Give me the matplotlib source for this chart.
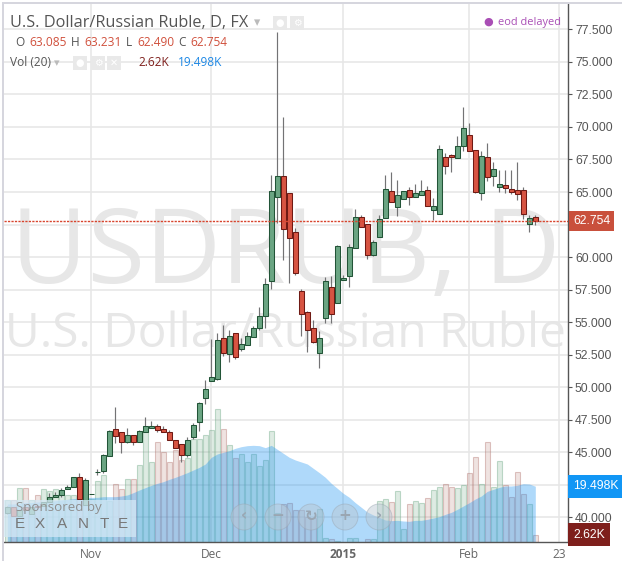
import matplotlib
matplotlib.use("Agg")
import matplotlib.pyplot as plt
from matplotlib.patches import Rectangle, Ellipse

opens = [40.28,40.77,40.08,40.77,40.21,40.87,40.85,41.18,41.52,41.72,42.13,42.28,43.05,40.92,41.74,43.44,43.56,44.67,46.75,46.52,
         45.75,46.28,45.75,46.52,46.82,46.98,46.75,46.52,45.9,45.59,44.74,46.13,47.28,49.13,50.46,50.62,53.75,52.56,54.13,52.95,
         53.25,53.82,54.52,55.48,58.13,64.59,66.21,64.9,61.9,57.36,55.75,54.52,52.64,55.33,57.67,56.44,58.21,58.52,60.67,63.05,
         62.52,60.13,61.56,62.98,65.05,63.87,64.48,65.13,64.64,64.79,65.13,63.64,63.33,67.67,67.82,67.64,68.56,69.36,68.21,64.95,
         67.67,66.25,65.41,65.52,65.21,65.13,65.13,62.56,63.085]
highs = [40.85,40.77,40.08,40.77,40.75,40.87,41.18,41.85,41.9,42.21,42.44,43.05,43.36,42.98,41.78,43.67,44.82,46.67,48.44,46.52,
         46.85,46.28,46.67,47.67,47.36,47.13,46.98,46.69,45.9,45.59,46.13,47.21,48.82,50.54,53.67,54.13,54.77,54.36,54.13,53.75,
         54.21,54.69,56.13,58.36,66.31,77.28,70.75,64.9,62.21,57.52,55.82,55.13,54.28,58.43,58.52,60.9,58.59,60.98,63.67,63.21,
         62.52,61.28,63.23,66.31,66.54,65.92,65.05,65.38,65.62,65.92,65.46,64.54,68.62,68.0,67.92,69.31,71.52,70.28,68.21,68.13,
         68.75,67.28,66.69,66.69,66.69,67.31,65.36,63.23,63.231]
lows = [40.2,40.08,40.08,40.54,40.21,40.79,40.85,41.18,41.52,41.56,42.13,42.28,41.36,40.92,41.74,43.25,43.41,44.67,45.67,44.9,
        45.67,45.52,45.75,46.52,46.82,46.52,46.52,45.9,45.28,44.25,44.59,45.97,46.64,48.67,50.46,50.54,52.41,51.95,52.18,52.79,
        53.25,53.82,54.36,54.56,57.52,62.62,59.77,58.02,58.59,53.95,52.69,53.41,51.48,54.95,54.95,56.44,58.21,57.72,60.67,62.28,
        59.87,60.05,61.56,62.98,64.25,63.15,64.48,64.0,64.64,64.79,63.95,62.85,63.33,66.41,66.56,67.64,68.18,68.18,64.95,64.38,
        65.87,65.46,65.02,64.95,64.85,64.38,62.92,61.92,62.49]
closes = [40.75,40.08,40.54,40.54,40.75,40.79,41.18,41.52,41.67,42.05,42.28,43.05,41.36,42.82,41.78,43.48,44.75,46.59,46.21,45.75,
          46.28,45.75,46.59,46.98,46.98,46.67,46.52,45.9,45.28,44.74,45.9,47.05,48.75,49.82,50.75,53.59,52.64,53.9,52.33,53.28,
          53.9,54.52,55.44,57.9,65.05,66.21,62.18,61.48,58.75,55.64,54.41,53.48,53.75,58.13,55.59,60.82,58.36,60.75,63.05,62.28,
          60.13,61.13,62.9,65.21,64.25,64.75,65.05,64.64,64.9,65.05,63.95,63.9,68.28,67.02,67.72,68.52,69.9,68.18,65.02,67.75,
          66.18,66.75,65.59,65.33,65.02,64.87,63.33,62.98,62.754]
volumes = [14.68,14.68,18.76,18.76,14.68,16.31,18.41,17.71,18.41,17.01,16.31,16.31,14.92,13.52,14.92,21.21,23.31,14.22,20.16,18.41,
           21.91,21.91,26.8,39.16,27.85,34.85,31.35,27.85,32.05,28.55,29.25,35.9,35.9,37.29,39.04,46.38,39.39,33.8,29.25,30.65,
           27.85,30.65,26.45,28.55,38.69,10.02,13.17,13.52,11.07,11.07,8.62,8.27,11.42,1.28,0.93,0.23,0.05,1.28,1.28,0.05,
           0.93,0.93,14.22,14.92,13.87,17.71,4.43,13.17,14.22,13.52,15.27,18.06,19.11,20.16,19.11,18.76,19.81,24.0,29.6,20.16,
           34.85,19.11,28.2,19.81,15.61,24.36,16.66,13.17,2.62]
vol_ma = [13.3,13.3,13.5,13.75,13.75,14.0,14.1,14.2,14.45,14.7,14.9,15.15,15.4,15.5,15.61,15.61,15.85,15.85,15.85,16.08,
          16.43,17.25,18.18,19.0,19.81,20.51,21.09,21.91,22.61,23.42,24.24,25.17,26.1,27.27,29.6,30.77,31.35,31.93,32.75,33.33,
          33.68,33.8,33.68,32.98,33.8,32.4,31.0,29.6,28.67,27.97,27.27,25.75,24.24,22.61,20.51,18.76,17.01,15.61,13.75,12.12,
          10.49,9.44,8.62,7.69,7.46,7.57,7.34,7.22,7.57,7.57,7.92,8.39,8.85,9.67,10.37,11.42,12.58,13.75,15.03,16.08,
          17.71,18.41,19.11,19.58,19.58,19.81,20.39,20.28,19.498]
price_ticks = [40,42.5,45,47.5,50,52.5,55,57.5,60,62.5,65,67.5,70,72.5,75,77.5]
hidden_ticks = [42.5, 62.5]
date_ticks = [14,34,56,77,92]
date_labels = ["Nov","Dec","2015","Feb","23"]
title = "U.S. Dollar/Russian Ruble, D, FX"
symbol = "USDRUB, D"
long_name = "U.S. Dollar/Russian Ruble"

W, H = 622, 561
def px(x, y):
    return x / W, 1 - y / H

plt.rcParams['font.family'] = ['Open Sans', 'DejaVu Sans']
fig = plt.figure(figsize=(W / 100, H / 100), dpi=100, facecolor='white')
L, R, T, B = 4, 568, 4, 542
ax = fig.add_axes([L / W, 1 - B / H, (R - L) / W, (B - T) / H])
axv = ax.twinx()
ax.set_zorder(axv.get_zorder() + 1)
ax.patch.set_visible(False)
axv.patch.set_facecolor('white')

ax.set_xlim(-0.55, 93.45)
ax.set_ylim(38.08, 79.46)
axv.set_ylim(0, 188.1)

xs = list(range(len(closes)))

# background watermark
axv.text(*px(11, 283), symbol, transform=fig.transFigure, fontsize=75.5, color='#e7e7e7', zorder=0.1, va='baseline', ha='left')
axv.text(*px(5, 347), long_name, transform=fig.transFigure, fontsize=34.4, color='#e7e7e7', zorder=0.1, va='baseline', ha='left')

# grid
axv.hlines(price_ticks, 0, 1, transform=ax.get_yaxis_transform(), color='#e6e6e6', lw=1.1, zorder=0.5)
axv.vlines(date_ticks, 0, 1, transform=ax.get_xaxis_transform(), color='#e6e6e6', lw=1.1, zorder=0.5)

# volume
up = [c >= o for o, c in zip(opens, closes)]
vol_face = [(0.42, 0.65, 0.51, 0.22) if u else (0.70, 0.46, 0.42, 0.20) for u in up]
vol_edge = [(0.42, 0.65, 0.51, 0.40) if u else (0.68, 0.42, 0.40, 0.38) for u in up]
axv.bar(xs, volumes, width=0.9, color=vol_face, edgecolor=vol_edge, linewidth=0.8, zorder=1)
axv.fill_between(xs, vol_ma, 0, color='#2196f3', alpha=0.36, lw=0, zorder=2)

# candles
ax.vlines(xs, lows, highs, color='#737375', lw=0.85, zorder=3)
tops = [max(o, c) for o, c in zip(opens, closes)]
bots = [min(o, c) for o, c in zip(opens, closes)]
heights = [t - b for t, b in zip(tops, bots)]
ax.bar(xs, heights, bottom=bots, width=0.78,
       color=['#6ba583' if u else '#d75442' for u in up],
       edgecolor=['#225437' if u else '#6f1a14' for u in up], linewidth=0.75, zorder=4)

# last price line
ax.axhline(closes[-1], color='#d8452e', lw=1.0, ls=(0, (1.6, 0.9)), zorder=5)

# axes
for s in ('left', 'top'):
    ax.spines[s].set_visible(False)
for s in axv.spines.values():
    s.set_visible(False)
for s in ('right', 'bottom'):
    ax.spines[s].set_color('#555555')
    ax.spines[s].set_linewidth(1.0)
axv.tick_params(right=False, labelright=False, bottom=False, labelbottom=False)
ax.yaxis.tick_right()
ax.set_yticks(price_ticks)
ax.set_yticklabels(["" if p in hidden_ticks else f"{p:.3f}" for p in price_ticks],
                   fontfamily='Liberation Sans', fontsize=8.8, color='#555555')
ax.tick_params(axis='y', length=3, width=0.8, color='#555555', pad=2)
ax.set_xticks(date_ticks)
ax.set_xticklabels(date_labels, fontsize=8.6, color='#666666')
ax.tick_params(axis='x', length=0, pad=4)
for lab in ax.get_xticklabels():
    if lab.get_text() == "2015":
        lab.set_fontweight('bold')

# value tags
tag = dict(fontsize=8.8, fontfamily='Liberation Sans', color='white', va='center', ha='left', clip_on=False, zorder=10)
ax.text(1.009, closes[-1], f"{closes[-1]:.3f}", transform=ax.get_yaxis_transform(),
        bbox=dict(boxstyle='square,pad=0.35', fc='#c9503c', ec='none'), **tag)
ax.text(1.009, vol_ma[-1], f"{vol_ma[-1]:.3f}K", transform=axv.get_yaxis_transform(),
        bbox=dict(boxstyle='square,pad=0.45', fc='#1196f5', ec='none'), **tag)
ax.text(1.009, volumes[-1], f"{volumes[-1]:.2f}K", transform=axv.get_yaxis_transform(),
        bbox=dict(boxstyle='square,pad=0.45', fc='#7e1f1c', ec='none'), **tag)

# outer border
fig.add_artist(Rectangle(px(2, 561), 1.5 / W, 558 / H, transform=fig.transFigure, fc='#d6d6de', ec='none', zorder=3))
fig.add_artist(Rectangle(px(2, 4), 620 / W, 1.5 / H, transform=fig.transFigure, fc='#d6d6de', ec='none', zorder=3))

# header
def t(x, y, s, size=8.6, color='#555555', **kw):
    kw.setdefault('va', 'center')
    fig.text(*px(x, y), s, fontsize=size, color=color, zorder=5, **kw)

t(10, 23, title, size=11.7, color='#555555')
t(254, 23, "▾", size=9, color='#bbbbbb', family='DejaVu Sans')
t(15, 42.5, "O"); t(29, 42.5, f"{opens[-1]:.3f}", color='#d0503c')
t(71, 42.5, "H"); t(84, 42.5, f"{highs[-1]:.3f}", color='#d0503c')
t(126, 42.5, "L"); t(137, 42.5, f"{lows[-1]:.3f}", color='#d0503c')
t(178, 42.5, "C"); t(190, 42.5, f"{closes[-1]:.3f}", color='#d0503c')
t(10, 63, "Vol (20)")
t(54, 63, "▾", size=8, color='#bbbbbb', family='DejaVu Sans')
t(138, 63, f"{volumes[-1]:.2f}K", color='#7e1f1c')
t(178, 63, f"{vol_ma[-1]:.3f}K", color='#1e88e5')
for x0, y0, sym in [(273, 16, "●"), (290, 16, "⚙"), (73, 56, "●"), (91, 56, "⚙"), (107, 56, "✕")]:
    fig.add_artist(Rectangle(px(x0, y0 + 14), 14 / W, 14 / H, transform=fig.transFigure, fc='#e9e9e9', ec='none', zorder=3))
    t(x0 + 7, y0 + 7, sym, size=7, color='white', ha='center', family='DejaVu Sans')
t(488, 22, "●", size=8, color='#a94eb5', ha='center', family='DejaVu Sans')
t(498, 22, "eod delayed", size=7.9, color='#a94eb5')

# sponsor panel
fig.add_artist(Rectangle(px(4, 537), 132 / W, 37 / H, transform=fig.transFigure, fc='#d4e8f5', ec='none', alpha=0.75, zorder=3))
t(16, 507, "Sponsored by", size=9.6, color='#8f8f8f')
for x, ch in zip([20, 40, 62, 83, 104, 123], "EXANTE"):
    t(x, 524, ch, size=11, color='#777777', ha='center', family='Liberation Sans')

# navigation buttons
for cx, sym in zip([244, 278, 311, 345, 379], ["‹", "−", "↻", "+", "›"]):
    fig.add_artist(Ellipse(px(cx, 517), 26 / W, 26 / H, transform=fig.transFigure,
                           fc='#b9c6d2', ec='#9aa5b0', lw=0.7, alpha=0.45, zorder=3))
    t(cx, 516, sym, size=11, color='#9aa6b2', ha='center', family='DejaVu Sans', fontweight='bold')

fig.savefig("out.png", dpi=100)
